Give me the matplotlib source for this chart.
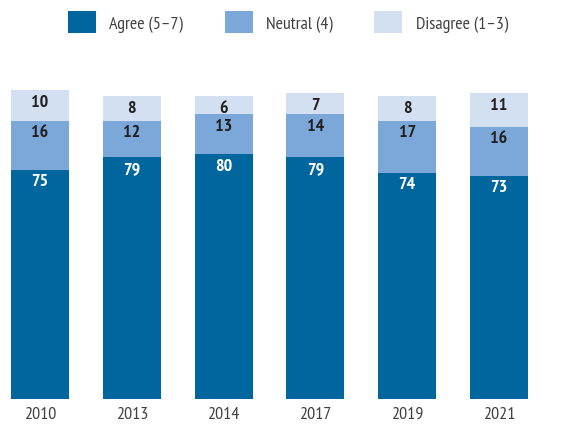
import matplotlib.pyplot as plt
import numpy as np

plt.rcParams["font.family"] = ["PT Sans Narrow", "Asap Condensed", "Archivo Narrow", "DejaVu Sans"]

# datos
years = ["2010", "2013", "2014", "2017", "2019", "2021"]
agree = [75, 79, 80, 79, 74, 73]
neutral = [16, 12, 13, 14, 17, 16]
disagree = [10, 8, 6, 7, 8, 11]

col_agree = "#02669e"
col_neutral = "#7ba7d9"
col_disagree = "#d3e0f1"

fig = plt.figure(figsize=(5.62, 4.31), dpi=100)
ax = fig.add_axes([0, 31 / 431, 1, 340 / 431])

x = np.arange(len(years))
w = 0.632
agree = np.array(agree)
neutral = np.array(neutral)
disagree = np.array(disagree)

b1 = ax.bar(x, agree, w, color=col_agree, label="Agree (5\u20137)")
b2 = ax.bar(x, neutral, w, bottom=agree, color=col_neutral, label="Neutral (4)")
b3 = ax.bar(x, disagree, w, bottom=agree + neutral, color=col_disagree,
            label="Disagree (1\u20133)")

# etiquetas dentro de cada segmento, cerca del borde superior
off = 3.8
for i in range(len(years)):
    ax.text(x[i], agree[i] - off, str(agree[i]), ha="center", va="center",
            color="white", fontsize=13, fontweight="bold")
    ax.text(x[i], agree[i] + neutral[i] - off, str(neutral[i]), ha="center",
            va="center", color="#231f20", fontsize=13, fontweight="bold")
    ax.text(x[i], agree[i] + neutral[i] + disagree[i] - off, str(disagree[i]),
            ha="center", va="center", color="#231f20", fontsize=13,
            fontweight="bold")

ax.set_xlim(-40 / 91.8, 522 / 91.8)
ax.set_ylim(0, 340 / 3.06)
ax.set_xticks(x)
ax.set_xticklabels(years, fontsize=13, color="#404040")
ax.tick_params(axis="x", length=0, pad=5)
ax.set_yticks([])
for s in ax.spines.values():
    s.set_visible(False)

fig.legend(handles=[b1, b2, b3], loc="center", bbox_to_anchor=(288 / 562, 1 - 23 / 431),
           ncol=3, frameon=False, fontsize=13, handlelength=1.55,
           handleheight=1.55, handletextpad=0.75, columnspacing=2.3,
           labelcolor="#404040")

fig.savefig("out.png", dpi=100)
